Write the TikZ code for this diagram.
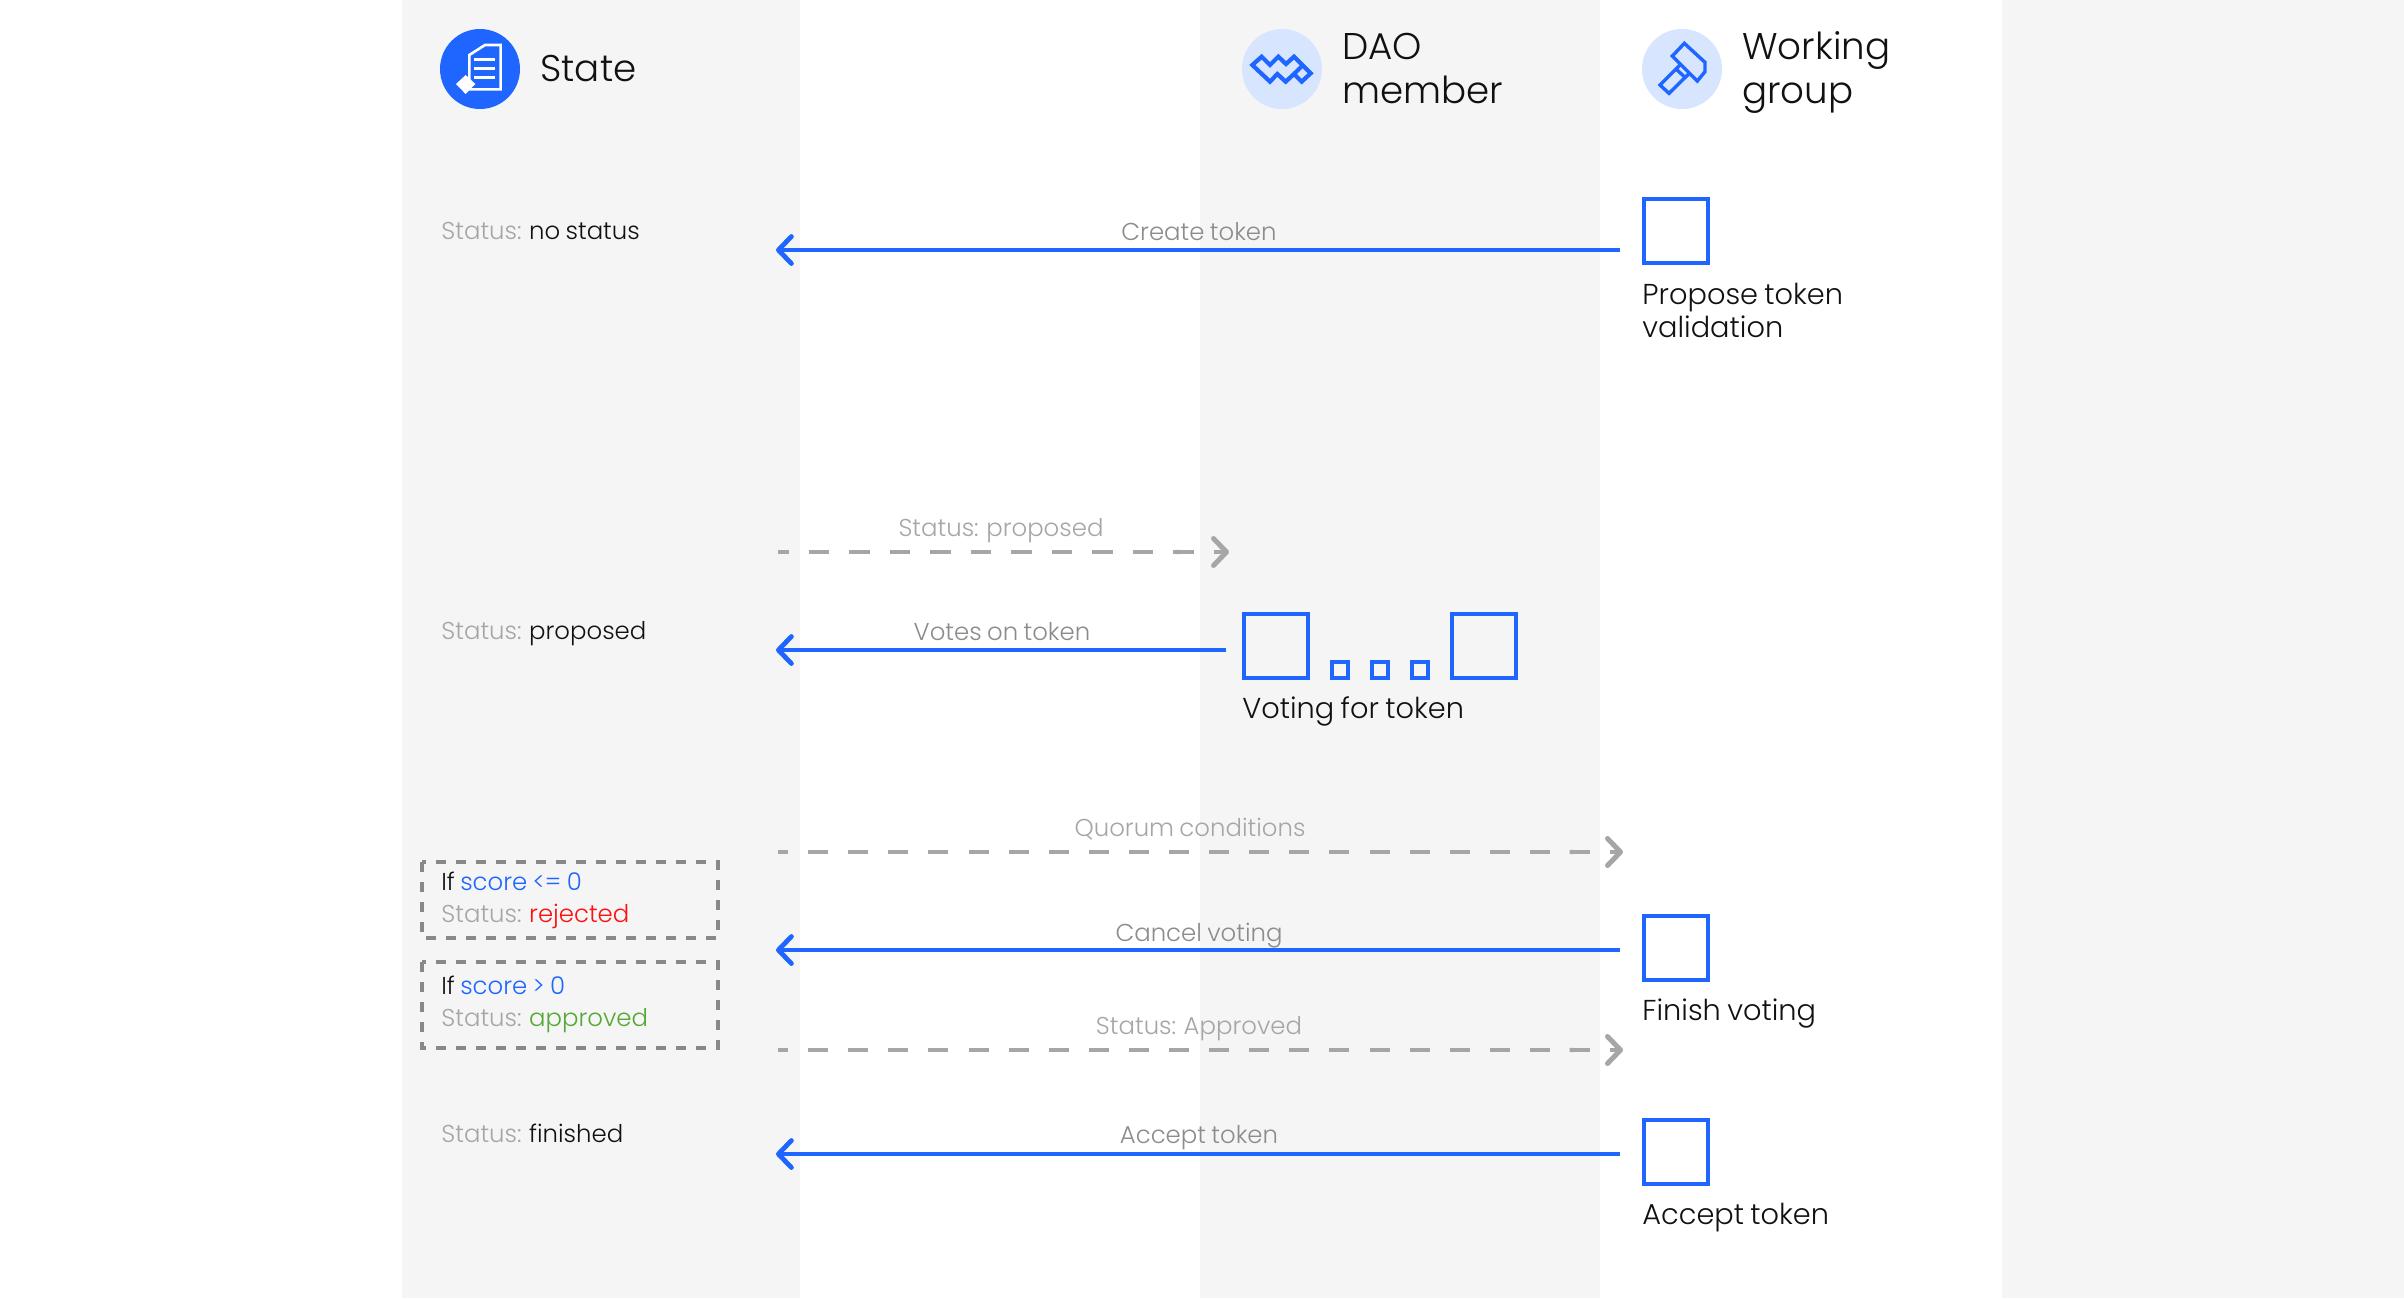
\documentclass[tikz,border=0pt]{standalone}
\usepackage{fontspec}
\setmainfont{Poppins}[UprightFont=* Light,WordSpace=0.8]
\usetikzlibrary{arrows.meta}
\definecolor{band}{HTML}{F5F5F5}
\definecolor{blu}{HTML}{1E66FF}
\definecolor{pale}{HTML}{D7E5FF}
\definecolor{gline}{HTML}{A6A6A6}
\definecolor{gbox}{HTML}{888888}
\definecolor{gtxt}{HTML}{8C8C8C}
\definecolor{gtxtb}{HTML}{A6A6A6}
\definecolor{ink}{HTML}{111111}
\definecolor{redc}{HTML}{FF1010}
\definecolor{grn}{HTML}{55A832}
\tikzset{
  bandfill/.style={fill=band,draw=none},
  txt/.style={inner sep=0pt,anchor=base west,text=ink,font=\fontsize{12.2}{15}\selectfont},
  head/.style={inner sep=0pt,anchor=base west,text=ink,align=left,font=\fontsize{18.6}{22}\selectfont},
  act/.style={inner sep=0pt,anchor=base west,text=ink,align=left,font=\fontsize{14.4}{16.5}\selectfont},
  alabel/.style={inner sep=0pt,anchor=base,text=gtxt,font=\fontsize{12.2}{15}\selectfont},
  dlabel/.style={alabel,text=gtxtb},
  bconn/.style={draw=blu,line width=2.2pt,{Straight Barb[length=6.5pt,width=13.5pt,line width=2.4pt,round]}-},
  dconn/.style={draw=gline,line width=2.2pt,
     -{Butt Cap[length=0pt,sep=16pt]Straight Barb[length=6.5pt,width=13.5pt,line width=2.5pt,round]}},
  dshort/.style={dash pattern=on 10.25pt off 10pt,dash phase=5pt},
  dlong/.style={dash pattern=on 10pt off 10.05pt,dash phase=5pt},
  sq/.style={draw=blu,line width=2.2pt,inner sep=0pt,minimum size=32pt,anchor=north west,fill=none},
  sqs/.style={draw=blu,line width=2.2pt,inner sep=0pt,minimum size=8pt,anchor=north west,fill=none},
  dbox/.style={draw=gbox,line width=2.2pt,dash pattern=on 5pt off 5pt,fill=none},
  ico/.style={draw=blu,line width=1.7pt,miter limit=4,line join=miter}
}
\newcommand{\st}{\textcolor{gtxtb}{Status:}}
\begin{document}
\begin{tikzpicture}[x=0.5pt,y=-0.5pt]
\useasboundingbox (0,0) rectangle (2404,1298);
\fill[white] (0,0) rectangle (2404,1298);
\fill[bandfill] (402,0) rectangle (800,1298);
\fill[bandfill] (1200,0) rectangle (1600,1298);
\fill[bandfill] (2002,0) rectangle (2404,1298);

% header icons
\node[circle,fill=blu,minimum size=40pt,inner sep=0pt] (icstate) at (480,69) {};
\node[circle,fill=pale,minimum size=40pt,inner sep=0pt] (icdao) at (1282,69) {};
\node[circle,fill=pale,minimum size=40pt,inner sep=0pt] (icwg) at (1682,69) {};
\begin{scope}[shift={(420,0)},scale=0.3333]
  \draw[white,line width=1.3pt] (148,165)--(195,135)--(242,135)--(242,268)--(148,268)--cycle;
  \draw[white,line width=1.5pt] (163,178)--(225,178) (163,205)--(225,205) (163,232)--(225,232);
  \fill[white] (137,225)--(166,252)--(137,282)--(108,252)--cycle;
\end{scope}
\begin{scope}[shift={(1220,0)},scale=0.3333]
  \draw[ico,line width=2.1pt] (97,195)--(125,170)--(150,195)--(175,170)--(198,192)--(222,170)--(272,220)--(245,245)--(222,222)--(197,245)--(172,222)--(150,245)--cycle;
  \draw[ico,line width=2.1pt] (222,222)--(247,197);
\end{scope}
\begin{scope}[shift={(1620,0)},scale=0.3333]
  \draw[ico] (193,130)--(255,187)--(255,215)--(232,243)--(157,168)--cycle;
  \draw[ico] (183,192)--(120,255)--(147,280)--(210,218);
  \draw[ico] (168,207)--(195,232);
\end{scope}

% headers
\node[head] (hstate) at (540,81) {State};
\node[head] (hdao) at (1342,103) {DAO\\member};
\node[head] (hwg) at (1742,103) {Working\\group};

% status texts
\node[txt] (s1) at (441,239) {\st{} no status};
\node[txt] (s2) at (441,639) {\st{} proposed};
\node[txt] (s3) at (441,1142) {\st{} finished};
\node[txt] (c1) at (441,890) {If \textcolor{blu}{score <= 0}};
\node[txt] (c2) at (441,922) {\st{} \textcolor{redc}{rejected}};
\node[txt] (c3) at (441,994) {If \textcolor{blu}{score > 0}};
\node[txt] (c4) at (441,1026) {\st{} \textcolor{grn}{approved}};
\draw[dbox] (422,862) rectangle (718,938);
\draw[dbox] (422,962) rectangle (718,1048);

% action boxes
\node[sq] (bprop) at (1642,197) {};
\node[sq] (bv1) at (1242,612) {};
\node[sqs] (d1) at (1330,660) {};
\node[sqs] (d2) at (1370,660) {};
\node[sqs] (d3) at (1410,660) {};
\node[sq] (bv2) at (1450,612) {};
\node[sq] (bfin) at (1642,914) {};
\node[sq] (bacc) at (1642,1118) {};
\node[act] (tprop) at (1642,337) {Propose token\\validation};
\node[act] (tvote) at (1242,718) {Voting for token};
\node[act] (tfin) at (1642,1020) {Finish voting};
\node[act] (tacc) at (1642,1224) {Accept token};

% connector ends
\coordinate (a1l) at (776,250); \coordinate (a1r) at (1620,250);
\coordinate (a2l) at (778,552); \coordinate (a2r) at (1229,552);
\coordinate (a3l) at (776,650); \coordinate (a3r) at (1226,650);
\coordinate (a4l) at (778,852); \coordinate (a4r) at (1623,852);
\coordinate (a5l) at (776,950); \coordinate (a5r) at (1620,950);
\coordinate (a6l) at (778,1050); \coordinate (a6r) at (1623,1050);
\coordinate (a7l) at (776,1154); \coordinate (a7r) at (1620,1154);

\draw[bconn] (a1l) -- (a1r);
\draw[dconn,dshort] (a2l) -- (a2r);
\draw[bconn] (a3l) -- (a3r);
\draw[dconn,dlong] (a4l) -- (a4r);
\draw[bconn] (a5l) -- (a5r);
\draw[dconn,dlong] (a6l) -- (a6r);
\draw[bconn] (a7l) -- (a7r);

% connector labels
\node[alabel] (l1) at (1199,240) {Create token};
\node[dlabel] (l2) at (1001,536) {Status: proposed};
\node[alabel] (l3) at (1002,640) {Votes on token};
\node[dlabel] (l4) at (1190,836) {Quorum conditions};
\node[alabel] (l5) at (1199,941) {Cancel voting};
\node[dlabel] (l6) at (1199,1034) {Status: Approved};
\node[alabel] (l7) at (1199,1143) {Accept token};
\end{tikzpicture}
\end{document}
